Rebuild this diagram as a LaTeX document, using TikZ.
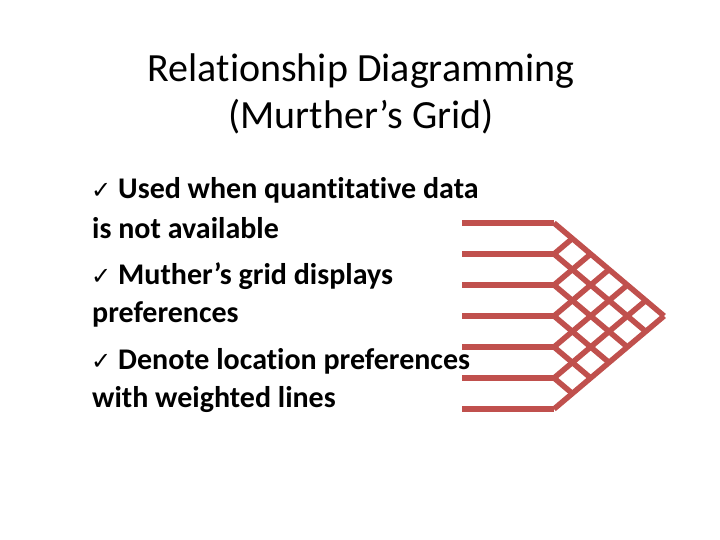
\documentclass[tikz,border=0pt]{standalone}
\usepackage{fontspec}
\setmainfont{Carlito}[Ligatures=NoCommon]
\newfontfamily\sym{DejaVu Sans}
\begin{document}
\begin{tikzpicture}[x=1pt,y=-1pt,
  gl/.style={draw={rgb,255:red,192;green,80;blue,77},line width=5.5pt,line cap=butt,line join=miter},
  title/.style={font=\fontsize{40}{47}\selectfont,align=center},
  btxt/.style={font=\bfseries\fontsize{30}{38}\selectfont,anchor=base west,inner sep=0},
  chk/.style={font=\sym\bfseries\fontsize{24}{24}\selectfont,anchor=base west,inner sep=0}]
\useasboundingbox (0,0) rectangle (720,540);
\node[title] (t) at (361,94) {Relationship Diagramming\\(Murther’s Grid)};
\foreach \y/\c/\t/\n in {199/1/Used when quantitative data/a,238/0/is not available/b,284/1/Muther’s grid displays/c,322/0/preferences/d,369/1/Denote location preferences/e,407/0/with weighted lines/f}{
  \ifnum\c=1
    \node[chk] (k\n) at (91,\y) {✓};
    \node[btxt] (l\n) at (118,\y) {\t};
  \else
    \node[btxt] (l\n) at (92,\y) {\t};
  \fi
}
% grid
\def\s{0.845}
\foreach \i in {0,...,6}{
  \pgfmathsetmacro{\yi}{223+31*\i}
  \coordinate (p\i) at (554,\yi);
  \draw[gl] (462,\yi) -- (p\i);
  \pgfmathsetmacro{\dx}{(409-\yi)/(2*\s)}
  \pgfmathsetmacro{\ye}{\yi+\dx*\s}
  \coordinate (d\i) at (554+\dx,\ye);
  \draw[gl] (p\i) -- (d\i);
  \pgfmathsetmacro{\ux}{(\yi-223)/(2*\s)}
  \pgfmathsetmacro{\yu}{\yi-\ux*\s}
  \coordinate (u\i) at (554+\ux,\yu);
  \draw[gl] (p\i) -- (u\i);
}
\end{tikzpicture}
\end{document}
